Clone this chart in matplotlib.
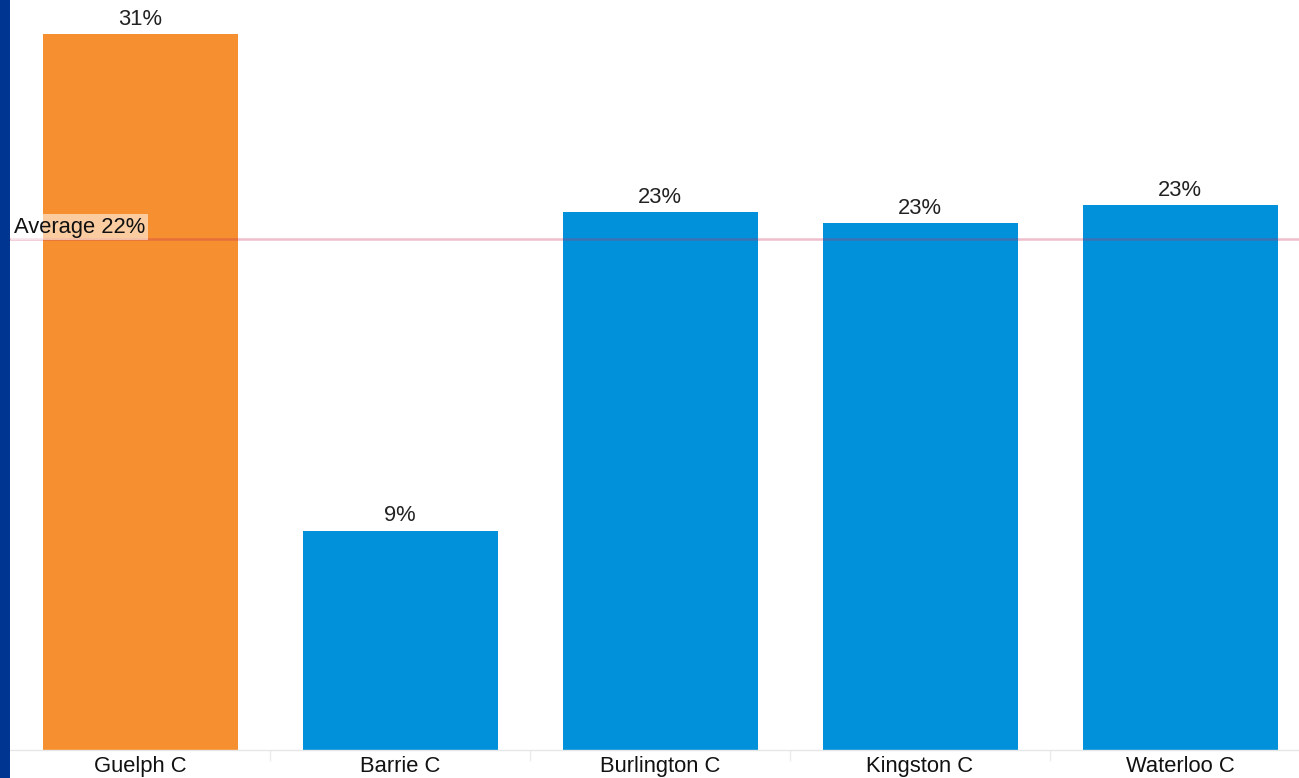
import matplotlib
matplotlib.use("Agg")
import matplotlib.pyplot as plt
from matplotlib.patches import Rectangle
import numpy as np

categories = ["Guelph C", "Barrie C", "Burlington C", "Kingston C", "Waterloo C"]
values = [31.0, 9.5, 23.3, 22.8, 23.6]
value_labels = ["31%", "9%", "23%", "23%", "23%"]
average = 22.1
average_label = "Average 22%"
highlight = "Guelph C"

W, H = 1299, 778
fig = plt.figure(figsize=(W / 100, H / 100), dpi=100)
fig.patch.set_facecolor("white")
fig.patches.append(Rectangle((0, 0), 10 / W, 1, transform=fig.transFigure,
                             facecolor="#003591", edgecolor="none", zorder=0))

ax_left = 10 / W
ax_bottom = (H - 750) / H
ax = fig.add_axes([ax_left, ax_bottom, 1 - ax_left, 1 - ax_bottom])
band = 260.0
ax.set_xlim(-0.5, -0.5 + (W - 10) / band)
ax.set_ylim(0, 750 / 23.1)

font = "Liberation Sans"
fs = 15.8
x = np.arange(len(categories))
colors = ["#F58F2F" if c == highlight else "#0091DA" for c in categories]
ax.bar(x, values, width=0.75, color=colors, zorder=2)

for xi, v, lab in zip(x, values, value_labels):
    ax.annotate(lab, (xi, v), xytext=(0, 3), textcoords="offset points",
                ha="center", va="bottom", fontsize=fs, family=font, color="#222222")

ax.axhline(average, color="#C8285A", alpha=0.3, lw=1.8, zorder=3)
ax.text(-0.5 + 4 / band, average + 0.08, average_label, ha="left", va="bottom",
        fontsize=fs, family=font, color="#111111", zorder=4,
        bbox=dict(boxstyle="square,pad=0.12", facecolor="white", alpha=0.55, edgecolor="none"))

for s in ["top", "right", "left"]:
    ax.spines[s].set_visible(False)
ax.spines["bottom"].set_color("#e6e6e6")
ax.spines["bottom"].set_linewidth(1)
ax.set_yticks([])
ax.set_xticks(x)
ax.set_xticklabels(categories, fontsize=fs, family=font, color="#111111")
ax.tick_params(axis="x", which="major", length=0, pad=4)
ax.set_xticks(np.arange(len(categories) - 1) + 0.5, minor=True)
ax.tick_params(axis="x", which="minor", length=8, color="#ececec", width=1)
ax.set_facecolor("white")

fig.savefig("out.png", dpi=100)
